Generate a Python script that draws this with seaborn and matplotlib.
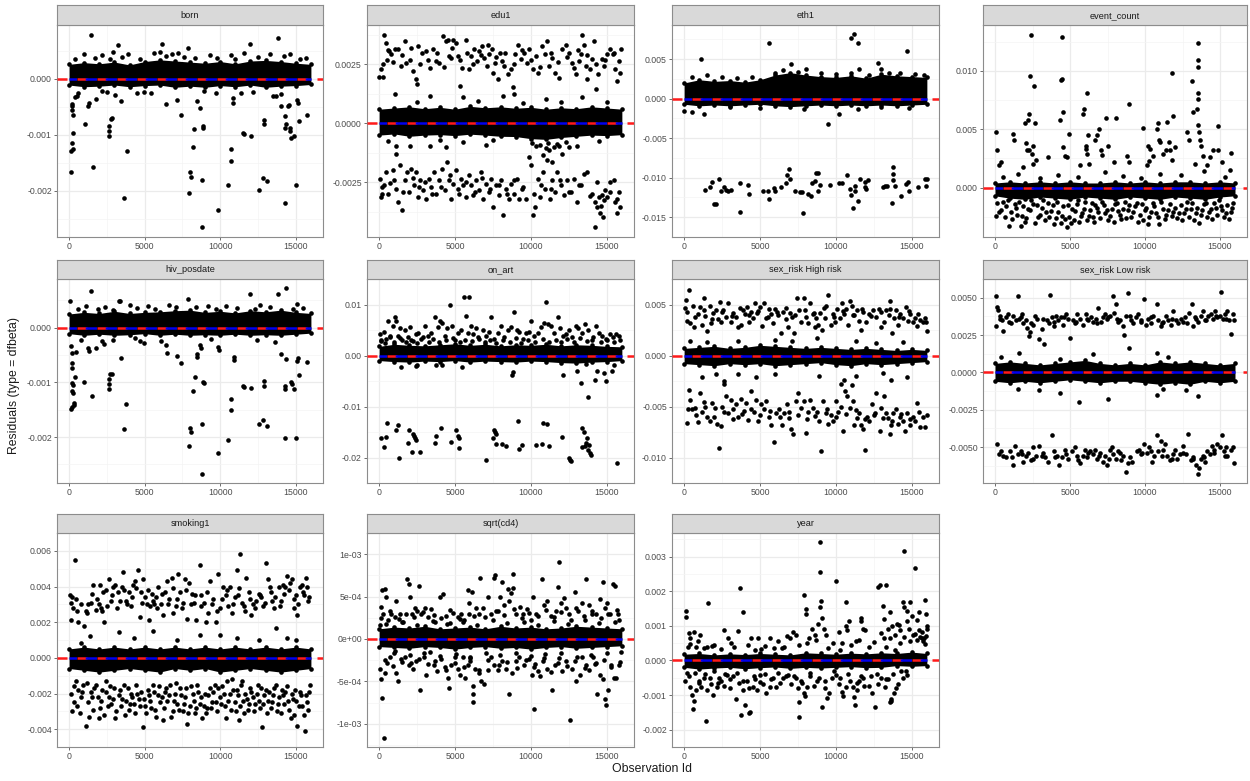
import matplotlib
matplotlib.use("Agg")
import matplotlib.pyplot as plt
import seaborn as sns
import pandas as pd

sns.set_theme(style="white")
plt.rcParams["font.family"] = ["Liberation Sans", "DejaVu Sans"]

# ---------------------------------------------------------------- data
# all y values below are in units of 1e-4 (dfbeta residuals)
Y_UNIT = 1e-4
panel_names = ["born", "edu1", "eth1", "event_count", "hiv_posdate", "on_art",
               "sex_risk High risk", "sex_risk Low risk", "smoking1", "sqrt(cd4)", "year"]

# observation ids at which the edges of the dense central band were read
band_x = [0, 1000, 2000, 3000, 4000, 5000, 6000, 7000, 8000, 9000, 10000,
          11000, 12000, 13000, 14000, 15000, 16000]

born_hi = [2.6, 2.9, 2.7, 3.0, 2.5, 3.1, 3.4, 3.2, 3.0, 2.8, 3.1, 2.7, 3.2, 3.3, 3.1, 2.8, 2.6]
born_lo = [-1.1, -1.4, -1.3, -1.1, -1.4, -1.2, -1.1, -1.5, -1.3, -1.5, -1.2, -1.4, -1.1, -1.5, -1.3, -1.2, -1.0]
born_pts = [(1430, 7.9), (3220, 6.1), (2920, 4.8), (6120, 6.2), (6030, 4.8), (7890, 5.6), (11950, 6.3), (13820, 7.3),
            (1000, 4.5), (2200, 4.3), (3900, 4.4), (5600, 4.6), (6800, 4.5), (7200, 4.7), (9300, 4.3), (10700, 4.2),
            (11600, 4.6), (13300, 4.4), (14600, 4.5), (15700, 3.7),
            (600, -2.5), (2500, -2.4), (4500, -2.6), (5400, -2.5), (8900, -2.2), (9700, -2.6), (12200, -2.4), (14000, -2.7),
            (175, -4.4), (220, -4.8), (160, -5.5), (230, -6.4), (240, -9.6), (170, -11.5), (130, -12.8), (260, -12.6),
            (130, -16.6), (500, -3.1), (380, -3.2), (1030, -8.1), (1300, -4.3), (1240, -4.8), (1750, -3.5), (1560, -15.8),
            (2190, -2.1), (2740, -7.2), (2650, -8.4), (2650, -9.3), (2650, -10.2), (2830, -7.0), (3440, -3.9), (3800, -12.8),
            (3660, -21.2), (3070, -2.8), (4980, -2.3), (6430, -4.5), (7430, -6.4), (7130, -3.7), (8440, -4.0), (8660, -5.2),
            (8290, -9.0), (8880, -8.4), (8880, -8.7), (8180, -12.1), (8000, -16.6), (8040, -17.5), (7940, -20.4),
            (8770, -18.0), (8820, -26.5), (9870, -23.4), (10700, -12.5), (10720, -14.7), (10530, -19.0), (10850, -3.4),
            (10850, -4.3), (11510, -9.6), (11550, -9.9), (12060, -10.2), (11400, -2.5), (12890, -7.4), (12890, -8.1),
            (12570, -19.8), (12830, -17.6), (13110, -18.3), (13490, -3.1), (13710, -3.1), (14030, -4.9), (14580, -4.6),
            (14500, -4.9), (14300, -6.6), (14360, -8.0), (14280, -8.7), (14630, -8.7), (14630, -9.3), (14690, -10.5),
            (14850, -10.2), (14280, -22.1), (15020, -19.0), (15110, -3.7), (15130, -4.3), (15240, -7.6), (15750, -6.5),
            (400, 3.6), (1700, 3.8), (2700, 3.5), (3500, 3.9), (4700, 3.6), (6400, 4.0), (7600, 3.9), (8300, 3.7),
            (9800, 3.8), (11000, 3.6), (12500, 3.9), (14200, 4.0), (15300, 3.5)]

edu1_hi = [6.0, 6.5, 7.0, 6.2, 6.8, 6.0, 7.2, 6.6, 7.0, 6.4, 6.8, 6.0, 6.6, 6.2, 7.0, 6.5, 6.0]
edu1_lo = [-5.0, -4.5, -5.5, -5.0, -4.8, -5.2, -4.6, -5.0, -5.5, -5.6, -6.5, -6.8, -6.0, -5.5, -5.0, -5.2, -4.8]
edu1_pts = [(0, 19.8), (260, 19.8), (330, 37.6), (440, 34.1), (530, 27.0), (660, 30.6), (810, 29.2), (260, 25.0),
            (1030, 31.3), (1250, 31.3), (1470, 24.2), (1680, 34.8), (1750, 25.6), (2010, 27.0), (2230, 22.2), (2410, 18.7),
            (2490, 16.6), (2560, 32.7), (2840, 29.9), (3110, 30.6), (3330, 23.5), (3540, 31.3), (3720, 26.4), (3940, 25.6),
            (4200, 36.9), (4380, 34.8), (4530, 35.5), (4600, 28.5), (4750, 27.8), (4900, 35.5), (5080, 34.1), (5190, 28.5),
            (5340, 15.9), (5470, 23.5), (5730, 35.5), (5910, 22.9), (6060, 28.5), (6280, 31.3), (6430, 26.4), (6610, 30.6),
            (6780, 32.7), (6940, 27.8), (7090, 24.3), (7260, 29.2), (7440, 31.3), (7530, 21.5), (7660, 25.6), (7810, 18.7),
            (7970, 29.9), (8100, 26.4), (8250, 24.3), (8470, 20.8), (8690, 22.9), (8800, 15.2), (8970, 29.2), (9150, 33.4),
            (9340, 27.1), (9560, 29.9), (9720, 25.7), (9890, 31.3), (10110, 22.9), (10330, 28.5), (10500, 21.5),
            (10720, 32.7), (10940, 29.2), (11090, 34.8), (11200, 24.3), (11420, 27.8), (11600, 21.5), (11860, 19.4),
            (12080, 31.3), (12340, 33.4), (12520, 29.9), (12690, 25.7), (12840, 23.6), (13000, 20.8), (13170, 26.4),
            (13280, 29.2), (13390, 37.6), (13500, 33.4), (13610, 24.3), (13720, 18.7), (13870, 22.9), (14050, 27.1),
            (14160, 34.8), (14270, 14.5), (14440, 20.8), (14660, 27.1), (14810, 24.3), (15030, 29.2), (15250, 31.3),
            (15400, 29.2), (15540, 22.9), (15690, 18.0), (15800, 26.4), (15860, 21.5), (15930, 31.3),
            (40, -23.5), (150, -31.2), (220, -29.8), (310, -26.3), (480, -20.6), (700, -25.5), (920, -19.9), (1090, -12.9),
            (1140, -27.7), (1250, -33.3), (1400, -17.8), (1530, -36.8), (1680, -24.2), (1840, -20.6), (1970, -29.1),
            (2120, -19.2), (2280, -26.3), (2410, -20.6), (2540, -31.2), (2710, -24.2), (2890, -28.4), (3110, -31.9),
            (3280, -23.5), (3440, -27.0), (3590, -20.6), (3760, -29.8), (3940, -24.2), (4160, -19.2), (4310, -28.4),
            (4460, -16.4), (4640, -22.1), (4750, -31.9), (4900, -25.6), (5080, -19.9), (5250, -29.8), (5400, -23.5),
            (5560, -26.3), (5730, -31.2), (5910, -22.1), (6060, -26.3), (6210, -30.5), (6390, -24.2), (6560, -28.4),
            (6720, -20.6), (6870, -31.9), (7050, -25.6), (7220, -29.1), (7370, -23.5), (7530, -35.4), (7700, -26.3),
            (7880, -30.5), (8030, -24.2), (8180, -39.0), (8360, -27.7), (8530, -31.9), (8710, -25.6), (8910, -29.8),
            (9060, -23.5), (9230, -31.9), (9450, -27.7), (9670, -31.9), (9890, -14.3), (10000, -17.8), (10110, -39.0),
            (10280, -35.4), (10440, -23.5), (10590, -31.2), (10770, -20.6), (10940, -27.7), (11090, -15.7), (11250, -31.9),
            (11420, -24.2), (11600, -29.1), (11750, -20.6), (11970, -26.3), (12190, -30.5), (12410, -24.2), (12630, -29.1),
            (12840, -23.5), (13060, -33.3), (13280, -26.3), (13500, -21.3), (13720, -20.6), (14050, -29.8), (14230, -33.3),
            (14330, -24.9), (14380, -35.4), (14490, -31.2), (14590, -38.2), (14660, -30.5), (14200, -44.1), (14750, -39.7),
            (14810, -32.6), (14920, -28.4), (15030, -31.2), (15250, -24.9), (15470, -24.2), (15580, -33.3), (15690, -38.2),
            (15800, -29.1), (15910, -35.4),
            (10330, -9.4), (10770, -13.6), (10980, -10.5), (11200, -11.5), (11380, -16.4), (11530, -10.0), (11860, -9.4),
            (12080, -12.9), (12520, -10.1), (13060, -9.4), (1140, -9.4), (2060, -9.8), (3330, -9.4), (4420, -10.1),
            (5510, -8.0), (7050, -9.1), (1030, 12.4), (3330, 11.4), (5510, 11.0), (8140, 11.7), (8910, 12.4),
            (10980, 10.3), (13390, 11.0), (2500, 9.0), (6500, 9.5), (9500, 8.8), (12000, 9.2), (15000, 9.0),
            (600, -7.5), (4000, -7.2), (7500, -7.0), (14500, -7.5), (10100, -8.5), (10600, -9.0), (11100, -8.2),
            (11700, -8.8), (12300, -8.0)]
edu1_more = [(100, 23), (600, 31), (900, 26), (1500, 29), (2100, 32), (2700, 25), (3200, 27), (3800, 30), (4300, 24),
             (4800, 32), (5300, 27), (5800, 30), (6200, 25), (6700, 29), (7200, 33), (7700, 28), (8300, 30), (8900, 25),
             (9400, 31), (10000, 27), (10600, 24), (11300, 30), (11800, 26), (12400, 28), (13100, 31), (13700, 29),
             (14300, 25), (14900, 27), (15500, 30),
             (200, -27), (600, -30), (1000, -24), (1600, -29), (2200, -23), (2600, -27), (3000, -25), (3500, -30),
             (4100, -27), (4600, -24), (5200, -28), (5700, -25), (6300, -29), (6800, -23), (7300, -28), (7900, -26),
             (8400, -30), (8900, -24), (9500, -27), (10200, -30), (10700, -26), (11300, -28), (11900, -24), (12500, -29),
             (13200, -26), (13900, -31), (14600, -35), (15200, -29), (15700, -32)]

eth1_hi = [20, 24, 22, 23, 21, 24, 30, 33, 30, 28, 27, 29, 26, 31, 29, 28, 27]
eth1_lo = [-7, -9, -8, -9, -8, -7, -9, -10, -9, -8, -9, -8, -9, -8, -9, -8, -7]
eth1_pts = [(1130, 50), (5580, 70), (10980, 77), (11200, 82), (11470, 71), (12800, 45), (14690, 60), (7070, 44),
            (11510, 38), (12960, 37), (8000, 37), (500, 28), (1500, 30), (2500, 27), (3500, 26), (4500, 28), (6000, 33),
            (6500, 36), (7500, 34), (9000, 33), (10000, 31), (11000, 33), (12200, 30), (13500, 33), (14200, 32),
            (15200, 31), (15800, 30), (20, -15), (510, -17), (1290, -19), (9510, -32), (10180, -19), (11470, -13),
            (7890, -13), (3000, -11), (5000, -11.5), (13000, -11), (14800, -12),
            (1360, -116), (1690, -112), (1840, -106), (1960, -133), (2130, -133), (2310, -101), (2440, -117), (2620, -112),
            (2730, -116), (2890, -117), (3070, -116), (3690, -143), (3690, -107), (4220, -109), (4290, -120), (5180, -117),
            (5510, -117), (5580, -127), (5910, -113), (6020, -117), (6360, -112), (6730, -107), (6800, -97), (6890, -89),
            (6980, -101), (7330, -117), (7620, -118), (7780, -118), (7820, -144), (8180, -121), (8360, -123), (8440, -107),
            (8670, -94), (8800, -94), (8620, -104), (8840, -117), (8960, -109), (9620, -109), (10180, -107), (10400, -107),
            (10730, -96), (10960, -114), (11020, -122), (11110, -138), (11240, -111), (11290, -117), (11470, -130),
            (11620, -101), (11910, -105), (12000, -114), (11930, -112), (12130, -103), (13110, -112), (13240, -110),
            (13400, -111), (13690, -132), (13780, -86), (13780, -95), (13780, -103), (13910, -110), (14290, -123),
            (14620, -108), (14730, -106), (14840, -117), (15400, -112), (15910, -102), (15990, -102), (15960, -111)]

event_hi = [4, 5, 4, 5, 4, 5, 4, 4, 5, 4, 5, 4, 5, 5, 4, 5, 4]
event_lo = [-7, -9, -10, -8, -9, -10, -8, -9, -10, -8, -9, -10, -8, -9, -10, -8, -7]
event_pts = [(70, 48), (160, 32), (290, 19), (380, 22), (1220, 46), (1290, 41), (1890, 18), (2000, 55), (2070, 38),
             (2160, 32), (2220, 58), (2290, 63), (2330, 96), (2380, 131), (2290, 32), (2440, 29), (2510, 20), (2600, 87),
             (2670, 55), (2560, 36), (2730, 24), (3560, 26), (4330, 58), (4380, 92), (4440, 93), (4490, 129), (4510, 65),
             (4510, 35), (4670, 27), (4780, 26), (4960, 46), (5670, 19), (5840, 63), (5930, 67), (6070, 36), (6110, 81),
             (6220, 45), (6110, 29), (6070, 33), (6290, 20), (6670, 41), (6780, 45), (6960, 50), (7040, 32), (7110, 28),
             (7400, 60), (7560, 36), (7930, 22), (8070, 60), (8960, 72), (8780, 27), (8960, 22), (9890, 51), (10110, 19),
             (10220, 36), (10330, 33), (10290, 23), (10560, 27), (10820, 50), (10890, 55), (10960, 41), (11000, 39),
             (11180, 29), (11400, 32), (11470, 56), (11620, 39), (11670, 32), (11820, 98), (11890, 61), (12000, 35),
             (11780, 24), (12780, 48), (12960, 41), (13110, 91), (13180, 65), (13330, 20), (13490, 67), (13560, 76),
             (13560, 81), (13510, 124), (13510, 109), (13510, 103), (13560, 54), (13620, 48), (13670, 41), (13730, 36),
             (13890, 27), (14110, 19), (14330, 26), (14560, 32), (14890, 53), (14890, 32), (15110, 22), (15710, 30),
             (15670, 15),
             (70, -24), (290, -21), (560, -12), (730, -16), (960, -33), (1040, -21), (1330, -14), (1490, -23), (1710, -33),
             (1890, -16), (2070, -26), (2220, -18), (2380, -11), (2670, -30), (2780, -15), (3000, -23), (3220, -11),
             (3400, -21), (3620, -25), (3840, -15), (4070, -26), (4220, -21), (4380, -30), (4560, -16), (4780, -34),
             (4960, -25), (5110, -18), (5270, -28), (5440, -14), (5620, -29), (5780, -22), (6000, -12), (6160, -28),
             (6330, -19), (6510, -25), (6690, -15), (6890, -21), (7110, -12), (7330, -22), (7560, -28), (7780, -18),
             (7930, -29), (8110, -13), (8330, -23), (8510, -18), (8730, -26), (8960, -15), (9180, -21), (9440, -13),
             (9670, -23), (9890, -28), (10070, -17), (10290, -25), (10510, -13), (10730, -22), (10960, -31), (11180, -18),
             (11400, -23), (11670, -14), (11890, -21), (12160, -26), (12380, -15), (12600, -22), (12820, -12),
             (13040, -18), (13270, -28), (13490, -17), (13710, -23), (13930, -14), (14160, -25), (14380, -18),
             (14600, -13), (14820, -23), (15040, -16), (15270, -25), (15490, -15), (15710, -21), (15890, -13)]
event_more = [(150, -13), (420, -19), (650, -25), (880, -11), (1150, -27), (1400, -17), (1600, -12), (1800, -24),
              (2000, -29), (2300, -19), (2550, -14), (2850, -25), (3100, -17), (3300, -28), (3500, -13), (3750, -20),
              (3950, -31), (4150, -12), (4450, -24), (4650, -27), (4870, -15), (5050, -30), (5350, -20), (5550, -11),
              (5700, -24), (5950, -18), (6250, -24), (6450, -13), (6600, -29), (6800, -17), (7000, -26), (7250, -15),
              (7450, -19), (7680, -24), (8000, -14), (8200, -20), (8430, -27), (8650, -12), (8850, -19), (9080, -25),
              (9300, -16), (9550, -29), (9780, -14), (10000, -19), (10200, -31), (10400, -21), (10620, -16), (10850, -25),
              (11080, -12), (11300, -27), (11550, -19), (11780, -24), (12000, -17), (12250, -22), (12480, -28),
              (12700, -18), (12950, -25), (13150, -13), (13380, -22), (13600, -30), (13820, -19), (14050, -13),
              (14280, -21), (14480, -27), (14700, -17), (14950, -11), (15150, -19), (15380, -22), (15600, -27),
              (15800, -17),
              (500, 9), (1500, 12), (3000, 8), (4200, 11), (5500, 9), (7300, 13), (8500, 10), (9700, 8), (11000, 12),
              (12400, 11), (13900, 14), (15300, 9)]

hiv_hi = [2.5, 2.8, 2.6, 3.0, 2.6, 2.8, 2.9, 3.1, 3.2, 2.8, 3.0, 2.7, 3.1, 2.9, 3.2, 2.8, 2.6]
hiv_lo = [-1.1, -1.4, -1.2, -1.4, -1.3, -1.1, -1.4, -1.2, -1.4, -1.3, -1.4, -1.2, -1.4, -1.3, -1.4, -1.2, -1.0]
hiv_pts = [(70, 4.9), (1430, 6.7), (3290, 4.9), (3400, 4.8), (4010, 4.2), (7890, 5.2), (11950, 6.2), (13820, 6.2),
           (14320, 7.2), (15090, 4.4), (1100, 4.0), (2400, 3.8), (5200, 4.0), (6600, 4.1), (9200, 3.9), (10400, 4.0),
           (12600, 4.1), (15500, 3.6), (800, -2.3), (2900, -2.2), (4700, -2.4), (6100, -2.5), (9400, -2.1), (12400, -2.3),
           (13600, -2.6), (110, -3.4), (180, -4.6), (180, -6.4), (200, -7.4), (180, -10.2), (270, -10.4), (160, -11.6),
           (290, -11.9), (110, -14.8), (220, -14.5), (370, -9.0), (440, -4.5), (330, -14.2), (350, -13.8), (990, -10.0),
           (1250, -3.7), (1320, -4.3), (1540, -12.5), (1760, -3.7), (2190, -2.5), (2300, -2.9), (2700, -8.4),
           (2650, -9.3), (2650, -10.3), (2650, -11.3), (2830, -8.4), (3440, -5.6), (3620, -18.5), (3790, -13.9),
           (4340, -1.9), (4980, -2.8), (6470, -4.6), (6430, -3.1), (7430, -6.5), (7130, -5.1), (8440, -4.8), (8440, -5.4),
           (8330, -9.1), (8180, -11.5), (8000, -18.4), (8040, -19.1), (7940, -21.6), (8660, -3.1), (8720, -3.7),
           (8880, -9.9), (8900, -10.1), (8770, -17.7), (8820, -26.7), (9870, -23.0), (9870, -3.5), (9930, -4.1),
           (10700, -13.0), (10720, -15.1), (10530, -20.5), (10920, -5.4), (10920, -6.0), (11510, -10.6), (11570, -10.9),
           (12060, -11.0), (12890, -9.7), (12890, -10.6), (12570, -17.7), (12830, -16.8), (13110, -17.9), (13990, -4.9),
           (14320, -5.8), (14280, -10.6), (14280, -11.2), (14650, -10.0), (14760, -10.3), (14850, -11.2), (14280, -20.1),
           (15020, -20.1), (15130, -5.5), (15090, -6.1), (15240, -8.7), (15750, -6.3),
           (600, 3.4), (1900, 3.5), (2900, 3.3), (4500, 3.6), (5700, 3.4), (7100, 3.7), (8400, 3.8), (9700, 3.5),
           (11100, 3.6), (12300, 3.4), (13300, 3.7), (14800, 3.5)]

onart_hi = [18, 22, 20, 19, 21, 23, 20, 22, 19, 21, 20, 22, 19, 21, 20, 18, 17]
onart_lo = [-10, -12, -13, -11, -12, -10, -13, -11, -12, -13, -11, -12, -14, -15, -13, -12, -10]
onart_pts = [(40, 42), (150, 28), (310, 47), (480, 33), (590, 67), (740, 36), (920, 58), (1030, 75), (1090, 67),
             (1250, 39), (1400, 53), (1530, 31), (1690, 50), (1910, 36), (2010, 56), (2230, 28), (2410, 42), (2560, 44),
             (2780, 33), (3000, 58), (3220, 39), (3440, 44), (3660, 75), (3880, 56), (4030, 67), (4160, 64), (4310, 39),
             (4470, 53), (4640, 100), (4820, 58), (5000, 31), (5190, 44), (5410, 50), (5580, 114), (5740, 78), (5910, 114),
             (5850, 44), (6070, 57), (6220, 42), (6390, 53), (6610, 33), (6830, 50), (7050, 39), (7380, 75), (7230, 47),
             (7600, 33), (7820, 44), (8040, 58), (8260, 36), (8470, 50), (8690, 56), (8910, 86), (9070, 50), (9240, 47),
             (9460, 33), (9680, 44), (9900, 47), (10010, 67), (10230, 39), (10440, 44), (10660, 56), (10880, 64),
             (10990, 104), (11100, 61), (11320, 58), (11540, 44), (11760, 75), (11910, 53), (12090, 39), (12310, 42),
             (12520, 50), (12740, 36), (12960, 58), (13140, 53), (13360, 44), (13580, 61), (13800, 50), (14060, 31),
             (14280, 58), (14500, 44), (14720, 39), (14980, 33), (15200, 42), (15420, 36), (15640, 42), (15810, 39),
             (1470, -22), (2410, -21), (2500, -19), (3770, -18), (4160, -18), (5470, -22), (8760, -38), (8850, -33),
             (12090, -38), (13010, -31), (13290, -54), (13620, -16), (13800, -81), (14230, -49), (14390, -31),
             (14830, -34), (14980, -50), (15480, -19), (15330, -31),
             (150, -161), (310, -179), (480, -160), (530, -132), (1140, -147), (1250, -137), (1310, -201), (1970, -146),
             (1910, -171), (2230, -153), (2280, -158), (2190, -190), (2340, -161), (2450, -165), (2720, -189),
             (3660, -171), (3770, -157), (4050, -142), (4750, -169), (5080, -146), (5190, -158), (5250, -162),
             (5250, -182), (7050, -204), (7490, -161), (7600, -146), (7660, -150), (7710, -154), (7710, -173),
             (8100, -173), (8370, -178), (9200, -183), (9160, -129), (9420, -175), (10330, -175), (10720, -173),
             (10770, -132), (11040, -134), (11210, -178), (12040, -160), (13400, -143), (13510, -150), (13580, -178),
             (13620, -171), (13730, -161), (13800, -186), (13840, -175), (13880, -192), (13950, -196), (13360, -179),
             (12520, -201), (12560, -204), (12630, -207), (15700, -211)]
onart_more = [(100, 30), (380, 25), (700, 38), (1000, 27), (1350, 34), (1750, 26), (2100, 31), (2500, 25), (2900, 37),
              (3300, 27), (3550, 32), (3950, 26), (4400, 30), (4900, 35), (5300, 26), (5650, 31), (6150, 28), (6500, 36),
              (6950, 26), (7300, 30), (7700, 25), (8150, 31), (8600, 27), (9000, 34), (9350, 25), (9800, 30), (10300, 27),
              (10800, 33), (11200, 26), (11650, 30), (12000, 27), (12400, 32), (12850, 26), (13250, 35), (13700, 28),
              (14100, 36), (14600, 27), (15050, 30), (15500, 26), (15900, 30)]

high_hi = [7, 8, 9, 7, 8, 10, 9, 8, 7, 8, 7, 6, 7, 6, 5, 6, 5]
high_lo = [-8, -9, -10, -8, -9, -8, -10, -9, -8, -7, -9, -10, -8, -9, -8, -7, -6]
high_pts = [(70, 47), (110, 54), (180, 34), (290, 64), (400, 32), (580, 49), (670, 28), (890, 41), (1070, 48), (1180, 30),
            (1290, 56), (1400, 39), (1520, 24), (1690, 49), (1780, 32), (1920, 42), (2070, 45), (2230, 36), (2360, 52),
            (2450, 33), (2590, 45), (2740, 38), (2900, 51), (3070, 33), (3250, 42), (3410, 38), (3570, 28), (3740, 30),
            (3860, 45), (4010, 41), (4150, 48), (4300, 33), (4410, 43), (4520, 37), (4680, 51), (4810, 42), (4970, 48),
            (5130, 29), (5260, 51), (5420, 37), (5570, 46), (5710, 41), (5860, 32), (6020, 46), (6200, 40), (6370, 22),
            (6530, 43), (6690, 36), (6860, 28), (6980, 42), (7130, 38), (7270, 22), (7420, 56), (7580, 45), (7710, 33),
            (7870, 56), (8020, 38), (8160, 32), (8310, 51), (8470, 41), (8600, 28), (8690, 37), (8830, 30), (8980, 42),
            (9090, 25), (9270, 37), (9360, 49), (9490, 59), (9650, 30), (9810, 41), (9940, 33), (10100, 46), (10250, 37),
            (10390, 51), (10540, 41), (10700, 46), (10830, 30), (10920, 53), (11050, 49), (11210, 40), (11370, 45),
            (11540, 34), (11660, 25), (11810, 43), (11990, 33), (12210, 41), (12440, 45), (12660, 38), (12840, 46),
            (13000, 28), (13150, 33), (13330, 45), (13510, 40), (13590, 53), (13730, 22), (13820, 37), (13950, 45),
            (14110, 30), (14260, 41), (14440, 37), (14620, 48), (14780, 34), (14890, 41), (15070, 33), (15220, 37),
            (15380, 29), (15560, 35), (15730, 33), (15890, 37), (16000, 24),
            (180, -66), (290, -34), (360, -44), (510, -52), (740, -51), (890, -65), (1070, -37), (1180, -55), (1340, -46),
            (1520, -60), (1690, -64), (1850, -47), (2010, -51), (2180, -67), (2320, -91), (2410, -69), (2520, -50),
            (2630, -28), (2740, -40), (2900, -56), (3070, -44), (3250, -52), (3410, -48), (3570, -60), (3740, -43),
            (3920, -54), (4080, -47), (4230, -63), (4410, -35), (4590, -55), (4750, -44), (4900, -64), (5080, -48),
            (5260, -52), (5420, -45), (5570, -60), (5750, -68), (5930, -85), (6080, -56), (6240, -52), (6420, -68),
            (6600, -56), (6750, -48), (6910, -61), (7040, -72), (7200, -77), (7350, -45), (7530, -37), (7710, -51),
            (7870, -45), (8020, -76), (8160, -55), (8310, -44), (8470, -51), (8650, -59), (8870, -64), (9030, -94),
            (9140, -45), (9320, -56), (9490, -67), (9650, -58), (9810, -64), (9980, -45), (10160, -55), (10320, -50),
            (10470, -74), (10610, -35), (10760, -40), (10920, -51), (11100, -45), (11210, -68), (11370, -61),
            (11540, -56), (11660, -68), (11770, -72), (11940, -93), (12030, -60), (12210, -64), (12390, -48),
            (12550, -56), (12660, -37), (12880, -74), (13000, -51), (13150, -40), (13290, -56), (13440, -61),
            (13550, -77), (13660, -68), (13770, -56), (13950, -52), (14110, -67), (14260, -60), (14440, -64),
            (14550, -74), (14710, -56), (14890, -68), (15070, -60), (15220, -64), (15380, -47), (15560, -70),
            (15730, -60), (15890, -70), (16000, -58),
            (400, 14), (1520, 13), (3520, 14), (5970, 15), (7090, 14), (8760, 17), (11320, 14), (12660, 12), (14440, 13),
            (1180, -21), (2070, -18), (2630, -25), (3520, -18), (4750, -21), (5970, -18), (8870, -20), (10320, -28),
            (10540, -24), (11050, -29), (11320, -20), (13110, -17), (13660, -24), (14670, -21)]
high_more = [(200, 43), (700, 38), (1300, 45), (1850, 36), (2500, 43), (3150, 39), (3700, 47), (4250, 40), (4900, 44),
             (5500, 38), (6100, 43), (6700, 47), (7300, 40), (7950, 45), (8550, 42), (9200, 47), (9900, 38), (10500, 44),
             (11100, 40), (11700, 46), (12350, 39), (12950, 43), (13550, 46), (14150, 38), (14800, 44), (15400, 41),
             (15950, 33),
             (250, -52), (800, -58), (1400, -50), (2000, -60), (2600, -55), (3200, -62), (3800, -57), (4400, -52),
             (5000, -58), (5650, -54), (6300, -60), (6900, -55), (7500, -58), (8100, -62), (8750, -55), (9400, -52),
             (10000, -60), (10650, -57), (11300, -53), (11900, -62), (12500, -58), (13100, -61), (13700, -64),
             (14300, -57), (14900, -62), (15500, -55)]

low_hi = [6, 7, 6, 5, 6, 7, 8, 6, 5, 6, 5, 7, 6, 7, 6, 5, 6]
low_lo = [-6, -7, -6, -7, -6, -5, -6, -7, -6, -6, -7, -8, -7, -8, -6, -7, -6]
low_pts = [(70, 51), (110, 44), (220, 42), (70, 31), (330, 38), (440, 35), (560, 28), (730, 37), (890, 39), (1040, 33),
           (1220, 38), (1400, 35), (1560, 51), (1620, 36), (1780, 39), (1890, 33), (2070, 35), (2160, 30), (2290, 24),
           (2330, 27), (2510, 32), (2670, 38), (2820, 36), (2960, 22), (3110, 29), (3270, 19), (3440, 35), (3620, 33),
           (3670, 52), (3780, 37), (3930, 31), (4070, 38), (4220, 35), (4380, 37), (4560, 32), (4730, 39), (4890, 36),
           (5000, 23), (5180, 35), (5330, 33), (5490, 39), (5670, 36), (5840, 32), (6070, 39), (6220, 35), (6380, 37),
           (6560, 34), (6730, 36), (6890, 43), (7040, 34), (7180, 37), (7330, 39), (7490, 36), (7670, 38), (7840, 51),
           (7930, 40), (8070, 46), (8160, 36), (8330, 35), (8510, 31), (8600, 25), (8730, 38), (8890, 53), (9040, 35),
           (9220, 33), (9400, 37), (9560, 39), (9710, 34), (9930, 49), (10070, 32), (10220, 36), (10380, 33), (10560, 38),
           (10780, 46), (10890, 35), (11040, 31), (11220, 34), (11400, 38), (11560, 35), (11710, 32), (11890, 41),
           (12070, 35), (12220, 33), (12380, 36), (12670, 37), (12820, 33), (12960, 40), (13110, 46), (13220, 31),
           (13400, 36), (13560, 34), (13710, 38), (13890, 41), (14070, 35), (14220, 38), (14380, 39), (14510, 36),
           (14670, 41), (14820, 37), (15070, 54), (15000, 38), (15180, 36), (15330, 39), (15490, 41), (15620, 35),
           (15710, 26), (15840, 39), (15930, 35),
           (160, -48), (290, -55), (510, -56), (730, -57), (1000, -53), (1180, -62), (1330, -49), (1560, -55),
           (1710, -53), (1890, -60), (2070, -56), (2220, -54), (2380, -59), (2560, -50), (2730, -56), (2960, -49),
           (3110, -56), (3330, -57), (3560, -60), (3780, -42), (3930, -53), (4110, -56), (4290, -62), (4440, -57),
           (4670, -52), (4890, -58), (5110, -53), (5330, -50), (5490, -56), (5670, -61), (5840, -56), (6000, -52),
           (6160, -57), (6330, -53), (6510, -55), (6670, -52), (6820, -58), (7000, -54), (7180, -60), (7330, -56),
           (7490, -62), (7670, -52), (7780, -50), (7890, -55), (8070, -58), (8220, -53), (8380, -59), (8510, -56),
           (8730, -67), (8890, -61), (9110, -60), (9440, -53), (9620, -52), (9780, -54), (9930, -48), (10110, -54),
           (10290, -50), (10440, -60), (10600, -56), (10780, -42), (10890, -53), (11040, -46), (11180, -52),
           (11330, -48), (11490, -56), (11670, -59), (11840, -55), (12000, -52), (12160, -58), (12330, -55),
           (12560, -49), (12730, -55), (12890, -41), (13040, -59), (13220, -57), (13400, -62), (13510, -68),
           (13620, -64), (13710, -58), (13840, -56), (14000, -60), (14160, -53), (14330, -55), (14440, -49),
           (14600, -52), (14780, -48), (15000, -50), (15110, -42), (15270, -53), (15400, -50), (15490, -56),
           (15710, -52), (15890, -50), (15930, -61),
           (400, 10), (1600, 13), (4300, 9), (6500, 12), (8900, 16), (10800, 13), (11500, 10),
           (1500, -11), (2900, -12), (4300, -14), (5600, -20), (7500, -18), (10800, -15), (11200, -11), (12700, -12),
           (13500, -16)]
low_more = [(300, 36), (950, 34), (1700, 37), (2400, 33), (3200, 36), (3900, 34), (4600, 37), (5400, 34), (6100, 36),
            (6800, 33), (7500, 37), (8200, 34), (9000, 38), (9700, 35), (10400, 37), (11100, 33), (11800, 36),
            (12500, 34), (13300, 37), (14000, 35), (14700, 38), (15400, 36),
            (400, -53), (1100, -57), (1800, -55), (2500, -58), (3200, -54), (4000, -57), (4700, -55), (5500, -59),
            (6200, -54), (6900, -56), (7600, -58), (8300, -54), (9000, -57), (9700, -55), (10400, -53), (11100, -56),
            (11800, -58), (12500, -54), (13200, -58), (13900, -57), (14600, -54), (15300, -56)]

smok_hi = [5, 6, 5, 6, 5, 6, 5, 6, 5, 6, 5, 6, 5, 6, 5, 6, 5]
smok_lo = [-6, -7, -8, -7, -6, -7, -8, -6, -7, -6, -8, -7, -6, -7, -8, -7, -6]
smok_pts = [(70, 35), (110, 31), (150, 21), (220, 34), (370, 55), (500, 26), (590, 20), (990, 18), (1090, 26), (1250, 30),
            (1420, 31), (1600, 41), (1750, 27), (1860, 33), (2040, 41), (2080, 28), (2190, 26), (2300, 20), (2470, 38),
            (2630, 44), (2780, 32), (2910, 40), (3070, 41), (3220, 37), (3390, 32), (3570, 48), (3660, 38), (3790, 32),
            (3940, 37), (4090, 29), (4230, 41), (4380, 43), (4530, 49), (4660, 23), (4750, 37), (4880, 44), (5040, 34),
            (5150, 30), (5260, 21), (5360, 29), (5470, 36), (5630, 30), (5760, 34), (5910, 40), (6070, 30), (6240, 24),
            (6350, 37), (6460, 43), (6630, 33), (6790, 45), (6900, 25), (7070, 29), (7230, 47), (7340, 37), (7510, 31),
            (7660, 44), (7820, 22), (7950, 42), (8100, 36), (8250, 31), (8390, 21), (8650, 52), (8760, 35), (8910, 31),
            (9040, 20), (9200, 25), (9350, 43), (9520, 33), (9700, 20), (9850, 47), (10010, 28), (10180, 40),
            (10360, 35), (10510, 29), (10620, 40), (10790, 25), (10950, 34), (11100, 49), (11230, 39), (11340, 58),
            (11450, 31), (11610, 26), (11710, 45), (11890, 37), (12040, 24), (12200, 30), (12370, 32), (12550, 36),
            (12700, 34), (12850, 29), (13030, 53), (13140, 44), (13290, 40), (13420, 32), (13580, 28), (13690, 17),
            (13860, 40), (14010, 32), (14170, 41), (14300, 40), (14450, 46), (14600, 42), (14740, 44), (14890, 28),
            (15000, 35), (15110, 24), (15260, 40), (15390, 41), (15550, 35), (15700, 45), (15830, 32),
            (150, -20), (220, -30), (330, -25), (440, -13), (590, -18), (770, -22), (940, -15), (1090, -38), (1250, -25),
            (1420, -19), (1600, -29), (1750, -15), (1900, -22), (2040, -28), (2190, -18), (2340, -32), (2470, -13),
            (2630, -22), (2780, -26), (2960, -17), (3130, -30), (3280, -21), (3440, -27), (3610, -15), (3790, -24),
            (3940, -29), (4090, -20), (4270, -26), (4440, -15), (4600, -23), (4750, -19), (4880, -39), (5040, -27),
            (5190, -18), (5360, -24), (5540, -15), (5690, -29), (5850, -21), (6020, -25), (6200, -35), (6350, -19),
            (6500, -24), (6680, -15), (6850, -30), (7010, -20), (7160, -26), (7340, -17), (7510, -30), (7660, -22),
            (7820, -37), (7990, -27), (8170, -20), (8320, -31), (8470, -15), (8650, -26), (8820, -34), (8980, -20),
            (9130, -28), (9310, -17), (9480, -25), (9630, -15), (9790, -30), (9960, -22), (10140, -16), (10290, -27),
            (10440, -13), (10620, -20), (10770, -12), (10950, -25), (11100, -18), (11230, -35), (11390, -15),
            (11500, -24), (11670, -20), (11820, -29), (11980, -17), (12150, -22), (12330, -26), (12480, -15),
            (12630, -28), (12770, -39), (12920, -21), (13070, -31), (13250, -19), (13420, -25), (13580, -17),
            (13740, -30), (13900, -22), (14080, -18), (14230, -26), (14390, -16), (14560, -29), (14740, -20),
            (14890, -32), (15000, -24), (15110, -38), (15260, -19), (15440, -27), (15610, -41), (15700, -21),
            (15830, -29), (15920, -15),
            (770, 8.5), (1380, 12), (3280, 14.5), (4270, 11), (5580, 15), (7120, 10), (8650, 13), (9960, 13),
            (11100, 11), (12590, 10), (14450, 11), (15000, 10)]
smok_more = [(300, -16), (520, -27), (700, -31), (880, -19), (1170, -14), (1340, -33), (1520, -22), (1680, -17),
             (1980, -34), (2110, -24), (2410, -19), (2560, -27), (2700, -16), (2880, -23), (3050, -34), (3360, -18),
             (3530, -23), (3700, -32), (3870, -17), (4020, -26), (4180, -22), (4350, -31), (4520, -20), (4680, -27),
             (4960, -23), (5120, -31), (5280, -21), (5450, -28), (5620, -19), (5780, -33), (5940, -16), (6120, -22),
             (6280, -28), (6430, -17), (6600, -21), (6770, -33), (6930, -24), (7080, -14), (7250, -29), (7420, -21),
             (7590, -26), (7740, -17), (7900, -31), (8080, -16), (8250, -24), (8400, -28), (8560, -19), (8740, -22),
             (8900, -27), (9060, -31), (9220, -21), (9400, -28), (9550, -19), (9720, -25), (9880, -17), (10050, -26),
             (10220, -20), (10360, -34), (10530, -24), (10700, -29), (10860, -18), (11020, -30), (11170, -21),
             (11310, -27), (11440, -13), (11580, -31), (11750, -23), (11900, -26), (12060, -19), (12240, -30),
             (12400, -20), (12560, -24), (12700, -17), (12850, -26), (13000, -18), (13170, -24), (13340, -28),
             (13500, -21), (13660, -15), (13820, -26), (13990, -31), (14150, -21), (14310, -19), (14480, -24),
             (14650, -34), (14820, -23), (14950, -18), (15190, -27), (15350, -21), (15530, -32), (15760, -25),
             (15880, -19),
             (280, 28), (450, 33), (820, 30), (1180, 25), (1500, 36), (1950, 30), (2240, 37), (2520, 29), (2850, 35),
             (3150, 28), (3480, 40), (3860, 30), (4150, 34), (4450, 39), (4800, 31), (5200, 38), (5520, 32), (5840, 28),
             (6180, 36), (6520, 30), (6850, 39), (7150, 33), (7450, 28), (7750, 38), (8050, 30), (8350, 35), (8700, 29),
             (9100, 37), (9450, 30), (9800, 26), (10100, 33), (10450, 38), (10850, 30), (11200, 35), (11550, 29),
             (11950, 33), (12300, 28), (12650, 35), (12950, 31), (13350, 37), (13650, 34), (13950, 29), (14250, 36),
             (14550, 38), (14850, 33), (15150, 30), (15450, 37), (15750, 40), (15900, 34)]

cd4_hi = [1.2, 1.4, 1.3, 1.5, 1.2, 1.3, 1.4, 1.2, 1.5, 1.3, 1.4, 1.2, 1.3, 1.5, 1.4, 1.3, 1.2]
cd4_lo = [-0.9, -1.0, -1.1, -0.9, -1.0, -1.2, -1.0, -0.9, -1.1, -1.0, -1.2, -1.0, -0.9, -1.1, -1.0, -0.9, -0.8]
cd4_pts = [(40, 1.7), (90, 3.8), (220, 5.8), (260, 2.9), (370, 5.9), (480, 4.9), (590, 2.2), (810, 2.9), (1030, 2.6),
           (1140, 4.5), (1360, 2.9), (1580, 2.0), (1840, 7.1), (1970, 6.5), (2010, 4.9), (2190, 2.9), (2340, 3.6),
           (2490, 3.3), (2630, 6.2), (2780, 2.9), (3000, 3.6), (3220, 2.6), (3440, 3.5), (3650, 2.0), (3980, 4.9),
           (4200, 5.3), (4420, 2.7), (4640, 1.9), (4900, 3.1), (5190, 2.6), (5400, 2.9), (5620, 2.2), (5840, 5.8),
           (5950, 4.3), (6130, 5.6), (6280, 2.7), (6560, 2.9), (6650, 7.2), (6870, 3.6), (7160, 5.0), (7370, 2.9),
           (7590, 7.2), (7660, 7.5), (7810, 3.3), (7960, 5.0), (8100, 6.7), (8250, 4.0), (8470, 5.9), (8580, 4.5),
           (8690, 5.4), (8800, 7.7), (8840, 6.0), (9010, 2.9), (9280, 3.8), (9500, 2.9), (9720, 3.5), (10000, 2.2),
           (10150, 5.0), (10370, 2.9), (10720, 7.1), (10880, 4.0), (11090, 4.5), (11310, 2.7), (11640, 3.3),
           (11770, 6.1), (11860, 9.1), (11970, 4.3), (12190, 4.8), (12340, 3.6), (12630, 2.2), (12910, 5.6),
           (13130, 3.3), (13390, 4.3), (13650, 7.1), (13830, 4.0), (14050, 2.9), (14270, 2.9), (14530, 4.7),
           (14750, 6.7), (14880, 3.6), (15030, 4.2), (15190, 2.9), (15400, 6.5), (15580, 6.3), (15760, 2.9),
           (15840, 2.2),
           (40, -3.5), (90, -4.7), (200, -7.0), (310, -11.7), (370, -4.0), (530, -2.8), (740, -2.1), (1030, -1.4),
           (1140, -4.0), (1250, -4.9), (1470, -2.4), (1690, -2.1), (1970, -3.1), (2120, -2.8), (2410, -2.6),
           (2710, -6.0), (2930, -2.1), (3110, -4.3), (3330, -1.5), (3590, -3.1), (3810, -3.8), (4090, -2.4),
           (4310, -3.3), (4530, -4.6), (4600, -5.8), (4750, -3.1), (4970, -2.1), (5190, -3.5), (5340, -4.2),
           (5510, -2.1), (5690, -4.6), (5840, -3.1), (5990, -2.2), (6170, -5.6), (6170, -6.5), (6170, -7.4),
           (6350, -3.5), (6560, -4.0), (6720, -4.9), (6940, -5.3), (7160, -3.7), (7370, -2.1), (7590, -3.1),
           (7810, -3.7), (8100, -2.6), (8360, -3.5), (8580, -6.5), (8750, -4.0), (9010, -2.6), (9230, -2.1),
           (9560, -3.1), (9850, -2.4), (10070, -4.2), (10220, -3.3), (10440, -3.8), (10220, -8.3), (10590, -4.4),
           (10880, -2.2), (11090, -3.5), (11380, -6.0), (11600, -3.1), (11860, -2.2), (12080, -3.8), (12300, -2.6),
           (12560, -9.5), (12740, -3.5), (12960, -4.9), (13220, -4.2), (13390, -2.1), (13610, -3.1), (13830, -3.7),
           (14090, -2.1), (14270, -2.8), (14380, -6.5), (14530, -4.2), (14750, -4.7), (14880, -7.1), (14930, -7.8),
           (15110, -6.0), (15260, -3.1), (15480, -4.6), (15630, -4.6), (15810, -3.1),
           (480, 1.8), (1530, 2.0), (2470, 1.7), (3560, 2.1), (4480, 1.8), (5530, 2.0), (6470, 1.6), (7520, 2.2),
           (8430, 1.9), (9570, 2.0), (10480, 1.7), (11530, 2.1), (12460, 1.8), (13540, 2.2), (14470, 1.9), (15520, 2.0),
           (960, -1.6), (2040, -1.9), (2960, -1.7), (4030, -2.0), (5060, -1.8), (5970, -2.1), (7040, -1.6),
           (7980, -1.9), (9040, -1.7), (10030, -2.0), (10960, -1.8), (12020, -1.6), (13050, -2.1), (13970, -1.9),
           (15010, -1.7), (15950, -1.5)]
cd4_more = [(150, 2.5), (700, 3.3), (1300, 2.4), (1800, 3.0), (2300, 2.6), (2900, 3.2), (3600, 2.8), (4100, 2.5),
            (4700, 3.4), (5300, 2.3), (5900, 3.0), (6400, 3.6), (7000, 2.6), (7700, 3.3), (8200, 2.8), (8900, 3.5),
            (9400, 2.5), (9900, 3.1), (10500, 2.7), (11000, 3.4), (11500, 2.6), (12000, 3.2), (12500, 2.9),
            (13000, 3.6), (13500, 2.7), (14000, 3.3), (14600, 2.5), (15100, 3.0), (15700, 3.4),
            (400, -2.5), (900, -3.2), (1500, -2.7), (2200, -3.5), (2600, -2.4), (3200, -3.0), (3700, -2.6),
            (4400, -3.7), (5000, -2.8), (5600, -3.3), (6000, -2.6), (6600, -3.6), (7200, -2.5), (7900, -3.1),
            (8400, -2.7), (9100, -3.4), (9700, -2.5), (10300, -3.0), (10800, -2.6), (11300, -3.9), (11800, -2.8),
            (12400, -3.2), (12900, -2.6), (13600, -3.4), (14200, -3.0), (14800, -2.5), (15300, -3.3), (15900, -2.7)]

year_hi = [1.8, 2.0, 1.6, 1.9, 1.7, 2.0, 1.8, 1.6, 2.2, 2.0, 1.8, 2.1, 1.9, 2.2, 2.0, 2.4, 2.0]
year_lo = [-2.0, -2.5, -2.2, -2.0, -2.4, -2.1, -1.9, -2.3, -2.0, -2.2, -2.0, -1.8, -2.1, -2.0, -1.5, -1.7, -1.5]
year_pts = [(130, 14.4), (130, 12.5), (290, 7.8), (360, 6.5), (400, 4.7), (620, 8.2), (800, 3.8), (1070, 7.3),
            (1520, 3.8), (1580, 16.5), (1850, 4.2), (2630, 8.9), (2900, 6.5), (3520, 8.4), (3700, 21.0), (3860, 14.0),
            (4410, 6.5), (4900, 6.5), (5040, 3.4), (5640, 6.6), (6420, 3.6), (6980, 6.5), (7200, 8.2), (7350, 7.3),
            (7930, 18.8), (8020, 14.9), (8020, 13.5), (8200, 6.5), (8420, 9.1), (8650, 7.3), (8830, 10.4), (8940, 25.5),
            (8980, 34.2), (9030, 17.3), (8980, 15.3), (9090, 12.2), (9200, 9.1), (9320, 7.3), (10030, 22.8), (10210, 8.2),
            (10430, 5.1), (10650, 16.9), (10700, 10.0), (10760, 8.7), (10880, 11.3), (11320, 5.6), (11660, 12.2),
            (11660, 11.3), (11810, 9.1), (11950, 8.7), (12770, 21.2), (12930, 21.9), (13150, 6.5), (13110, 15.8),
            (13150, 11.9), (13290, 21.7), (13440, 9.1), (13550, 14.0), (13730, 10.0), (13880, 2.9), (14040, 10.4),
            (14170, 10.2), (14260, 8.9), (14400, 16.8), (14490, 15.3), (14490, 31.5), (14660, 14.4), (14710, 11.3),
            (14890, 16.8), (15000, 12.7), (15220, 26.8), (15380, 11.8), (15450, 14.0), (15670, 6.5), (15900, 17.5),
            (15950, 13.5), (15980, 10.0), (15990, 9.1), (14890, 5.6), (15110, 7.3), (15330, 6.0), (15560, 6.9),
            (15780, 6.5), (15890, 4.7), (15670, 8.2),
            (70, -5.9), (220, -3.7), (400, -7.7), (510, -9.9), (620, -11.7), (580, -13.9), (800, -8.6), (960, -6.4),
            (1110, -7.7), (1290, -5.0), (1450, -17.6), (1520, -8.6), (1740, -6.8), (1920, -9.9), (2140, -7.7),
            (2300, -5.0), (2450, -5.9), (2630, -7.3), (2810, -4.2), (3030, -8.1), (3250, -4.6), (3410, -11.2),
            (3630, -6.4), (3740, -15.8), (3860, -8.6), (4010, -13.0), (4150, -5.9), (4300, -15.2), (4370, -14.8),
            (4520, -7.7), (4680, -5.5), (4810, -8.6), (4970, -4.2), (5190, -6.8), (5420, -9.5), (5640, -7.7),
            (5860, -5.0), (6080, -7.7), (6310, -6.4), (6530, -5.0), (6820, -4.2), (7040, -6.8), (7270, -4.6),
            (7530, -8.1), (7580, -12.1), (7580, -16.3), (7710, -5.9), (7870, -9.5), (7980, -10.4), (8090, -7.7),
            (8310, -4.6), (8540, -7.3), (8760, -5.9), (9090, -13.5), (9270, -8.1), (9430, -10.8), (9580, -9.5),
            (9760, -5.0), (9980, -4.2), (10210, -6.8), (10380, -9.0), (10470, -10.4), (10700, -7.7), (10920, -5.9),
            (11100, -7.7), (11210, -10.5), (11280, -13.0), (11370, -8.6), (11500, -5.9), (11660, -4.6), (11880, -7.3),
            (12210, -7.3), (12390, -9.5), (12550, -13.4), (12770, -6.8), (13000, -5.0), (13220, -7.7), (13440, -5.5),
            (13590, -12.1), (13660, -11.2), (13660, -11.7), (13820, -9.5), (13950, -8.1), (14110, -6.8), (14400, -5.0),
            (14660, -4.2)]
year_more = [(250, 4.0), (900, 5.5), (1300, 3.5), (2000, 4.5), (2400, 3.2), (3100, 5.0), (3300, 3.8), (4200, 4.4),
             (4700, 3.0), (5300, 4.2), (5900, 3.5), (6200, 5.5), (6600, 4.0), (6800, 7.0), (7600, 4.5), (8100, 5.0),
             (8700, 6.0), (9500, 3.5), (9800, 5.0), (10300, 3.0), (11000, 4.5), (11500, 6.0), (12200, 3.8),
             (12500, 5.2), (13000, 8.0), (13300, 4.0), (13600, 6.5), (13900, 7.2), (14200, 5.0), (14500, 6.8),
             (14800, 9.0), (15200, 7.5), (15500, 8.8), (15750, 5.5), (15950, 7.0),
             (300, -4.5), (700, -3.5), (1000, -6.0), (1400, -4.0), (1700, -5.0), (2000, -3.2), (2200, -6.5),
             (2700, -4.0), (3000, -5.5), (3500, -3.5), (3900, -6.0), (4250, -8.0), (4600, -4.5), (5000, -6.2),
             (5300, -4.0), (5700, -5.5), (6200, -3.5), (6700, -4.5), (7400, -5.0), (7800, -6.5), (8300, -3.5),
             (8900, -5.0), (9300, -6.0), (9900, -3.2), (10300, -5.0), (10800, -4.0), (11400, -6.5), (11800, -5.0),
             (12300, -4.5), (12700, -3.8), (13300, -5.5), (13800, -4.0), (14300, -3.2), (14600, -3.0)]

panel_pts = [born_pts, edu1_pts + edu1_more, eth1_pts, event_pts + event_more, hiv_pts, onart_pts + onart_more,
             high_pts + high_more, low_pts + low_more, smok_pts + smok_more, cd4_pts + cd4_more, year_pts + year_more]
panel_hi = [born_hi, edu1_hi, eth1_hi, event_hi, hiv_hi, onart_hi, high_hi, low_hi, smok_hi, cd4_hi, year_hi]
panel_lo = [born_lo, edu1_lo, eth1_lo, event_lo, hiv_lo, onart_lo, high_lo, low_lo, smok_lo, cd4_lo, year_lo]

# y tick breaks / labels per panel
ytick_vals = [[-0.002, -0.001, 0.0], [-0.0025, 0.0, 0.0025], [-0.015, -0.010, -0.005, 0.0, 0.005],
              [0.0, 0.005, 0.010], [-0.002, -0.001, 0.0], [-0.02, -0.01, 0.0, 0.01],
              [-0.010, -0.005, 0.0, 0.005], [-0.005, -0.0025, 0.0, 0.0025, 0.005],
              [-0.004, -0.002, 0.0, 0.002, 0.004, 0.006], [-1e-3, -5e-4, 0.0, 5e-4, 1e-3],
              [-0.002, -0.001, 0.0, 0.001, 0.002, 0.003]]
ytick_labs = [["-0.002", "-0.001", "0.000"], ["-0.0025", "0.0000", "0.0025"],
              ["-0.015", "-0.010", "-0.005", "0.000", "0.005"], ["0.000", "0.005", "0.010"],
              ["-0.002", "-0.001", "0.000"], ["-0.02", "-0.01", "0.00", "0.01"],
              ["-0.010", "-0.005", "0.000", "0.005"], ["-0.0050", "-0.0025", "0.0000", "0.0025", "0.0050"],
              ["-0.004", "-0.002", "0.000", "0.002", "0.004", "0.006"],
              ["-1e-03", "-5e-04", "0e+00", "5e-04", "1e-03"],
              ["-0.002", "-0.001", "0.000", "0.001", "0.002", "0.003"]]
xtick_vals = [0, 5000, 10000, 15000]
xtick_labs = ["0", "5000", "10000", "15000"]
id_range = [0, 16000]

# ---------------------------------------------------------------- layout
W, H = 1250, 781
fig = plt.figure(figsize=(W / 100, H / 100), dpi=100)
fig.patch.set_facecolor("white")
col_px = [(57, 323), (367, 634), (672, 939), (983, 1247)]
row_px = [(5, 25, 237), (260, 279, 483), (514, 533, 747)]
BORDER = "#8c8c8c"
TICKC = "#4d4d4d"

for i, name in enumerate(panel_names):
    r, c = divmod(i, 4)
    x0, x1 = col_px[c]
    st, sb, pb = row_px[r]
    ax = fig.add_axes([x0 / W, 1 - pb / H, (x1 - x0) / W, (pb - sb) / H])
    sax = fig.add_axes([x0 / W, 1 - sb / H, (x1 - x0) / W, (sb - st) / H])

    # strip
    sax.set_facecolor("#d9d9d9")
    sax.set_xticks([]); sax.set_yticks([])
    for s in sax.spines.values():
        s.set_color(BORDER); s.set_linewidth(0.8)
    sax.text(0.5, 0.48, name, ha="center", va="center", fontsize=6.6, color="#1a1a1a", transform=sax.transAxes)

    pts = pd.DataFrame(panel_pts[i], columns=["id", "res"])
    pts["res"] = pts["res"] * Y_UNIT
    band = pd.DataFrame({"id": band_x,
                         "hi": [v * Y_UNIT for v in panel_hi[i]],
                         "lo": [v * Y_UNIT for v in panel_lo[i]]})

    ymin = min(pts["res"].min(), band["lo"].min())
    ymax = max(pts["res"].max(), band["hi"].max())
    pad = 0.05 * (ymax - ymin)
    ylo, yhi = ymin - pad, ymax + pad

    ax.set_xlim(-800, 16800)
    ax.set_ylim(ylo, yhi)
    ax.set_facecolor("white")

    yt = ytick_vals[i]
    ax.set_yticks(yt)
    ax.set_yticklabels(ytick_labs[i])
    step = yt[1] - yt[0]
    minors = [yt[0] - step / 2] + [v + step / 2 for v in yt]
    ax.set_yticks(minors, minor=True)
    ax.set_xticks(xtick_vals)
    ax.set_xticklabels(xtick_labs)
    ax.set_xticks([2500, 7500, 12500], minor=True)
    ax.grid(which="major", color="#ebebeb", linewidth=0.9)
    ax.grid(which="minor", color="#f4f4f4", linewidth=0.5)
    ax.set_axisbelow(True)
    ax.tick_params(axis="both", which="major", labelsize=6.3, labelcolor=TICKC, length=2.2,
                   width=0.5, color="#333333", pad=1.5, direction="out", bottom=True, left=True)
    ax.tick_params(axis="both", which="minor", length=0)
    for s in ax.spines.values():
        s.set_color(BORDER); s.set_linewidth(0.8)

    # dense central band (edges) + individual points
    ax.fill_between(band["id"], band["lo"], band["hi"], color="black", linewidth=0, zorder=2)
    edge = pd.concat([band[["id", "hi"]].rename(columns={"hi": "res"}),
                      band[["id", "lo"]].rename(columns={"lo": "res"})])
    sns.scatterplot(data=edge, x="id", y="res", ax=ax, color="black", s=11, linewidth=0, zorder=3, legend=False)
    sns.scatterplot(data=pts, x="id", y="res", ax=ax, color="black", s=11, linewidth=0, zorder=3, legend=False)

    # reference line at zero (red) and flat trend over the observation range (blue)
    ax.axhline(0, color="#ff1a1a", linewidth=1.8, linestyle=(0, (4, 4)), zorder=4)
    ax.plot(id_range, [0, 0], color="#0000ee", linewidth=1.8, linestyle=(1.5, (4.5, 3.5)), zorder=5)
    ax.set_xlabel(""); ax.set_ylabel("")

fig.text(652 / W, 1 - 769 / H, "Observation Id", ha="center", va="center", fontsize=8.8, color="#1a1a1a")
fig.text(14 / W, 1 - 385 / H, "Residuals (type = dfbeta)", ha="center", va="center", rotation=90,
         fontsize=8.8, color="#1a1a1a")

fig.savefig("out.png", dpi=100, facecolor="white")
